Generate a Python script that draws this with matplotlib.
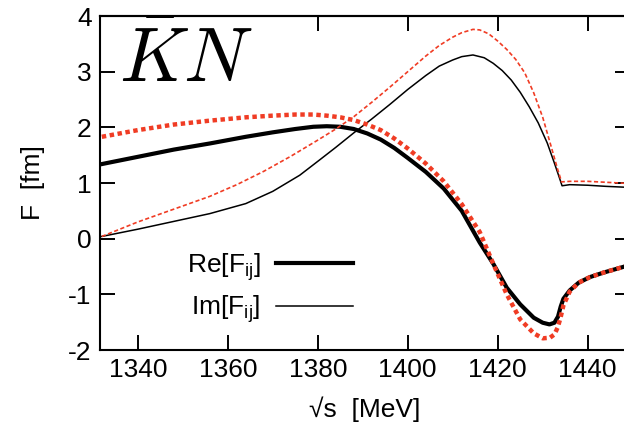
import matplotlib
matplotlib.use("Agg")
import matplotlib.pyplot as plt

plt.rcParams['font.family'] = ['Liberation Sans', 'DejaVu Sans']
plt.rcParams['mathtext.fontset'] = 'custom'
plt.rcParams['mathtext.rm'] = 'Liberation Sans'
plt.rcParams['mathtext.it'] = 'Liberation Sans'
plt.rcParams['mathtext.sf'] = 'Liberation Sans'
plt.rcParams['axes.unicode_minus'] = False

# --- data ---
re_black_E = [1332, 1340, 1348, 1356, 1364, 1370, 1375, 1379, 1382, 1385, 1388, 1391,
              1394, 1397, 1400, 1404, 1408, 1412, 1416, 1419, 1422, 1425, 1428, 1430,
              1431.5, 1432.6, 1433.4, 1434.0, 1434.6, 1436, 1438, 1440.5, 1443.5,
              1449.5]
re_black_F = [1.34, 1.47, 1.60, 1.71, 1.83, 1.91, 1.97, 2.01, 2.02, 2.01, 1.97, 1.89,
              1.78, 1.63, 1.45, 1.20, 0.90, 0.50, -0.07, -0.45, -0.88, -1.18, -1.42,
              -1.51, -1.54, -1.51, -1.40, -1.22, -1.08, -0.93, -0.79, -0.69, -0.61,
              -0.47]

re_red_E = [1332, 1340, 1348, 1356, 1364, 1370, 1375, 1379, 1382, 1385, 1388, 1391,
            1394, 1397, 1400, 1404, 1408, 1412, 1416, 1419, 1422, 1425, 1428, 1430,
            1431.6, 1432.6, 1433.3, 1433.9, 1434.6, 1436, 1438, 1440.5, 1443.5,
            1449.5]
re_red_F = [1.83, 1.95, 2.05, 2.12, 2.18, 2.21, 2.23, 2.23, 2.21, 2.18, 2.13, 2.05,
            1.95, 1.80, 1.62, 1.35, 1.03, 0.62, 0.12, -0.45, -1.00, -1.45, -1.70,
            -1.79, -1.78, -1.72, -1.60, -1.44, -1.20, -0.95, -0.79, -0.69, -0.61,
            -0.47]

im_black_E = [1332, 1340, 1348, 1356, 1364, 1370, 1376, 1380.5, 1384, 1388, 1392,
              1396, 1400, 1404, 1407, 1410, 1412, 1414.5, 1417, 1419, 1421, 1423,
              1425, 1427, 1429, 1431, 1432.5, 1433.6, 1434.3, 1436, 1440, 1444,
              1449.5]
im_black_F = [0.04, 0.17, 0.31, 0.45, 0.63, 0.85, 1.14, 1.42, 1.64, 1.90, 2.15,
              2.41, 2.68, 2.93, 3.10, 3.21, 3.27, 3.30, 3.25, 3.15, 3.02, 2.85,
              2.63, 2.37, 2.08, 1.72, 1.38, 1.12, 0.95, 0.97, 0.96, 0.94,
              0.92]

im_red_E = [1332, 1340, 1348, 1356, 1362, 1368, 1374, 1380, 1384, 1388, 1392, 1396,
            1400, 1404, 1407, 1410, 1412, 1414.5, 1416, 1418, 1420, 1422, 1424,
            1426, 1428, 1430, 1432, 1433.3, 1434.2, 1436, 1440, 1449.5]
im_red_F = [0.04, 0.30, 0.53, 0.76, 0.97, 1.21, 1.48, 1.77, 1.97, 2.19, 2.45, 2.72,
            3.00, 3.28, 3.47, 3.62, 3.70, 3.76, 3.75, 3.68, 3.55, 3.40, 3.22,
            2.98, 2.62, 2.18, 1.62, 1.25, 1.02, 1.03, 1.03, 0.99]

x_ticks = [1340, 1360, 1380, 1400, 1420, 1440]
y_ticks = [-2, -1, 0, 1, 2, 3, 4]
top_ticks = [1380, 1400, 1420, 1440]

red = '#f03c24'

fig = plt.figure(figsize=(6.24, 4.28), dpi=100)
ax = fig.add_axes([100/624, 1-350/428, 530/624, 334/428])

ax.plot(re_black_E, re_black_F, color='black', lw=3.0, label='Re[F$_{\\mathrm{ij}}$]', zorder=3)
ax.plot(im_black_E, im_black_F, color='black', lw=1.1, label='Im[F$_{\\mathrm{ij}}$]', zorder=3)
ax.plot(re_red_E, re_red_F, color=red, lw=3.2, ls=(0, (1.0, 0.8)), zorder=4)
ax.plot(im_red_E, im_red_F, color=red, lw=1.2, ls=(0, (2.5, 1.5)), zorder=4)

ax.set_xlim(1331.6, 1449.4)
ax.set_ylim(-2, 4)
ax.set_xticks(x_ticks)
ax.set_yticks(y_ticks)
ax.tick_params(direction='in', length=11, width=1.4, labelsize=19, right=True, pad=6)
for s in ax.spines.values():
    s.set_linewidth(1.5)

sec = ax.secondary_xaxis('top')
sec.set_xticks(top_ticks)
sec.tick_params(direction='in', length=11, width=1.4, labeltop=False)
sec.spines['top'].set_linewidth(1.5)

ax.set_xlabel('√s  [MeV]', fontsize=19, labelpad=10)
ax.set_ylabel('F  [fm]', fontsize=19, labelpad=17)

ax.text(0.035, 0.802, r'$\bar{K}N$', transform=ax.transAxes, fontsize=55,
        va='baseline', ha='left', math_fontfamily='cm')

ax.legend(loc='center right', bbox_to_anchor=(0.477, 0.185), frameon=False,
          markerfirst=False, fontsize=19, handlelength=2.9, handletextpad=0.6,
          borderpad=0, borderaxespad=0, labelspacing=0.4)

fig.savefig('out.png', dpi=100)
